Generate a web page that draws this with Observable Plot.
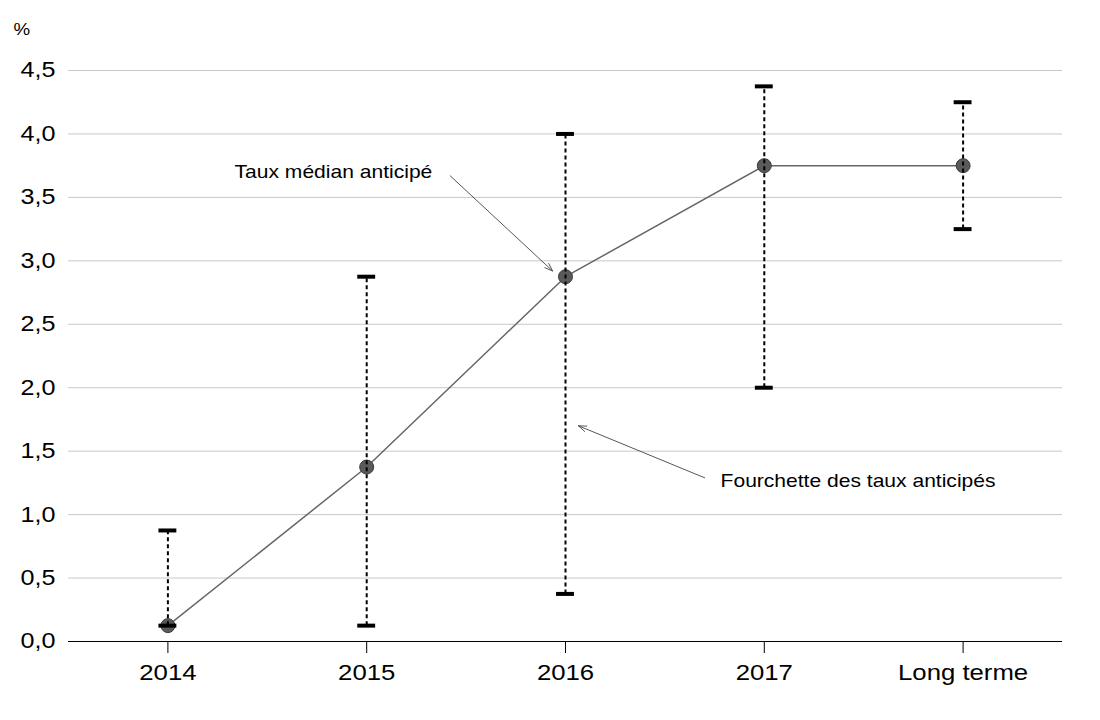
<!DOCTYPE html>
<html>
<head>
<meta charset="utf-8">
<script src="https://cdn.jsdelivr.net/npm/d3@7"></script>
<script src="https://cdn.jsdelivr.net/npm/@observablehq/plot@0.6"></script>
<style>
  body { margin: 0; background: #fff; font-family: "Liberation Sans", Arial, sans-serif; }
</style>
</head>
<body>
<div id="chart"></div>
<script>
const categories = ["2014", "2015", "2016", "2017", "Long terme"];
const medians = [0.125, 1.375, 2.875, 3.75, 3.75];
const lows    = [0.125, 0.125, 0.375, 2.0, 3.25];
const highs   = [0.875, 2.875, 4.0, 4.375, 4.25];
const yTicks  = [0, 0.5, 1, 1.5, 2, 2.5, 3, 3.5, 4, 4.5];

// annotations in data space (x = category index, y = %)
const annotationTexts = [
  {label: "Taux médian anticipé", x: 1.33, y: 3.70, anchor: "end"},
  {label: "Fourchette des taux anticipés", x: 2.78, y: 1.26, anchor: "start"}
];
const annotationArrows = [
  {x1: 1.42, y1: 3.67, x2: 1.935, y2: 2.92},
  {x1: 2.70, y1: 1.29, x2: 2.065, y2: 1.70}
];

const data = categories.map((c, i) => ({i, c, median: medians[i], low: lows[i], high: highs[i]}));
const capHalf = 0.045;
const fmt = d3.format(".1f");

const chart = Plot.plot({
  width: 1100,
  height: 720,
  marginLeft: 68,
  marginRight: 38,
  marginTop: 70,
  marginBottom: 79,
  style: {fontFamily: "'Liberation Sans', Arial, sans-serif", fontSize: "20px", color: "#000", background: "#fff"},
  x: {domain: [-0.5, 4.5]},
  y: {domain: [0, 4.5]},
  marks: [
    Plot.gridY(yTicks.slice(1), {stroke: "#c8c8c8", strokeOpacity: 1, strokeWidth: 1}),
    Plot.axisY(yTicks, {tickSize: 0, tickPadding: 13, tickFormat: d => fmt(d).replace(".", ","), fontSize: 21.5, label: null}),
    Plot.axisX(d3.range(categories.length), {tickSize: 12, tickPadding: 11, tickFormat: i => categories[i], fontSize: 22, label: null, stroke: "#000"}),
    Plot.ruleY([0], {stroke: "#000", strokeWidth: 1.2}),
    Plot.line(data, {x: "i", y: "median", stroke: "#666", strokeWidth: 1.5}),
    Plot.dot(data, {x: "i", y: "median", r: 7, fill: "#5a5a5a", stroke: "#3a3a3a", strokeWidth: 1}),
    Plot.ruleX(data, {x: "i", y1: "low", y2: "high", stroke: "#000", strokeWidth: 2, strokeDasharray: "4,3"}),
    Plot.ruleY(data, {y: "low", x1: d => d.i - capHalf, x2: d => d.i + capHalf, stroke: "#000", strokeWidth: 4}),
    Plot.ruleY(data, {y: "high", x1: d => d.i - capHalf, x2: d => d.i + capHalf, stroke: "#000", strokeWidth: 4}),
    Plot.arrow(annotationArrows, {x1: "x1", y1: "y1", x2: "x2", y2: "y2", stroke: "#444", strokeWidth: 0.9, headLength: 14, headAngle: 40}),
    Plot.text(annotationTexts.filter(d => d.anchor === "end"), {x: "x", y: "y", text: "label", textAnchor: "end", fontSize: 18, fill: "#000"}),
    Plot.text(annotationTexts.filter(d => d.anchor === "start"), {x: "x", y: "y", text: "label", textAnchor: "start", fontSize: 18, fill: "#000"}),
    Plot.text(["%"], {frameAnchor: "top-left", dx: -55, dy: -47, textAnchor: "start", fontSize: 16, fill: "#000"})
  ]
});
// the reference's lettering is slightly wide: stretch text horizontally about its anchor
chart.querySelectorAll("text").forEach(t => {
  const tr = t.getAttribute("transform");
  if (tr && tr.includes("translate")) t.setAttribute("transform", tr + " scale(1.17,1)");
});
document.getElementById("chart").appendChild(chart);
</script>
</body>
</html>
